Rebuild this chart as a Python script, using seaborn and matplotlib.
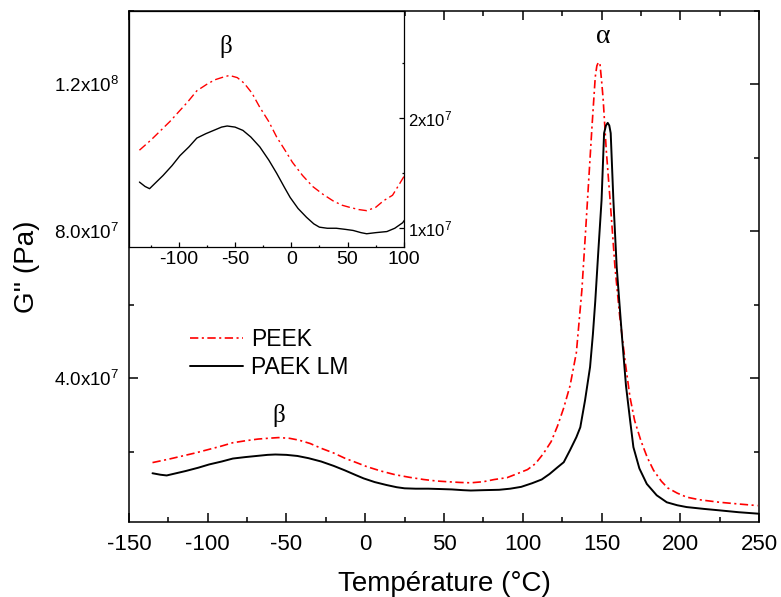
import numpy as np
import pandas as pd
import matplotlib
matplotlib.use("Agg")
import matplotlib.pyplot as plt
from matplotlib.ticker import MultipleLocator, FixedLocator, FuncFormatter
from matplotlib.lines import Line2D
import seaborn as sns

sns.set_theme(style="ticks")
plt.rcParams['font.family'] = ['Liberation Sans', 'DejaVu Sans']
plt.rcParams['mathtext.fontset'] = 'custom'
plt.rcParams['mathtext.rm'] = 'Liberation Sans'
plt.rcParams['lines.scale_dashes'] = False
plt.rcParams['axes.unicode_minus'] = False
plt.rcParams['axes.axisbelow'] = False
for k in ['text.color', 'axes.labelcolor', 'xtick.color', 'ytick.color', 'axes.edgecolor']:
    plt.rcParams[k] = 'black'
for a in ['xtick', 'ytick']:
    plt.rcParams[a + '.direction'] = 'in'
    plt.rcParams[a + '.major.size'] = 6.5
    plt.rcParams[a + '.minor.size'] = 3.6
    plt.rcParams[a + '.major.width'] = 1.1
    plt.rcParams[a + '.minor.width'] = 1.1
plt.rcParams['xtick.labelsize'] = 16
plt.rcParams['ytick.labelsize'] = 13.5
plt.rcParams['xtick.major.pad'] = 9
plt.rcParams['ytick.major.pad'] = 7
plt.rcParams['xtick.top'] = True
plt.rcParams['ytick.right'] = True
plt.rcParams['xtick.bottom'] = True
plt.rcParams['ytick.left'] = True

# ---------------- data (G'' in units of 1e7 Pa) ----------------
peek_T = [-135, -125, -115, -108, -100, -92, -84, -75, -68, -62, -55, -48, -42, -35,
          -28, -20, -13, -5, 1, 10, 19, 28, 37, 45, 52, 60, 67, 75, 82, 90, 96, 103,
          108, 113, 118, 122, 126, 130, 134, 137.5, 140, 142, 144, 146, 147, 148, 149,
          150, 151, 153, 155.5, 158.5, 161.5, 165, 168, 171, 175, 179, 183, 188, 192,
          198, 204, 212, 225, 238, 249]
peek_G = [1.71, 1.80, 1.90, 1.97, 2.06, 2.15, 2.25, 2.31, 2.35, 2.37, 2.39, 2.37, 2.32, 2.23,
          2.10, 1.97, 1.83, 1.70, 1.60, 1.48, 1.38, 1.31, 1.25, 1.21, 1.19, 1.17, 1.16, 1.19,
          1.25, 1.30, 1.40, 1.52, 1.68, 1.95, 2.28, 2.70, 3.20, 3.80, 4.70, 6.40, 8.10, 9.50,
          10.9, 12.2, 12.5, 12.6, 12.55, 12.1, 11.6, 10.2, 8.8, 7.03, 5.7, 4.45, 3.5, 2.85,
          2.3, 1.85, 1.5, 1.2, 1.02, 0.88, 0.77, 0.70, 0.63, 0.58, 0.54]

paek_T = [-135, -130, -126, -120, -114, -106, -99, -91, -84, -76, -69, -62, -57, -50,
          -43, -36, -28, -20, -13, -6, -1, 6, 13.5, 20, 25, 32, 40, 48, 55, 62, 67, 75,
          85, 92, 99, 106, 112, 117, 122, 126, 130, 134, 136.5, 139.5, 142.7, 144.5, 146,
          148, 150, 151.6, 152.8, 153.9, 154.9, 155.8, 157.5, 159.6, 162.8, 165.5, 168,
          170.2, 174, 178.7, 185, 191.4, 198, 204, 215, 225, 237, 249.6]
paek_G = [1.42, 1.38, 1.36, 1.42, 1.48, 1.57, 1.66, 1.74, 1.82, 1.86, 1.89, 1.92, 1.93, 1.92,
          1.89, 1.83, 1.74, 1.62, 1.50, 1.37, 1.28, 1.18, 1.10, 1.04, 1.01, 1.00, 1.00, 0.99,
          0.98, 0.96, 0.95, 0.96, 0.97, 1.00, 1.05, 1.15, 1.25, 1.40, 1.58, 1.72, 2.05, 2.40,
          2.67, 3.40, 4.31, 5.20, 6.10, 7.50, 8.85, 10.67, 10.88, 10.95, 10.88, 10.67, 8.85,
          7.03, 5.22, 3.80, 2.90, 2.13, 1.55, 1.13, 0.82, 0.63, 0.55, 0.50, 0.45, 0.41, 0.36, 0.32]

series_names = ["PEEK", "PAEK LM"]
main_xticks = [-150, -100, -50, 0, 50, 100, 150, 200, 250]
main_yticks = [4e7, 8e7, 1.2e8]
main_ylabels = [r"$\mathregular{4.0x10^{7}}$", r"$\mathregular{8.0x10^{7}}$", r"$\mathregular{1.2x10^{8}}$"]
inset_xticks = [-100, -50, 0, 50, 100]
inset_yticks = [1e7, 2e7]
inset_ylabels = [r"$\mathregular{1x10^{7}}$", r"$\mathregular{2x10^{7}}$"]

peek = pd.DataFrame({"T": peek_T, "G": np.array(peek_G) * 1e7})
paek = pd.DataFrame({"T": paek_T, "G": np.array(paek_G) * 1e7})

red_style = (0, (6, 2.5, 1.5, 2.5))

fig = plt.figure(figsize=(7.81, 5.97), dpi=100)
ax = fig.add_axes([0.165, 0.126, 0.807, 0.856])
ax.set_axisbelow(False)

sns.lineplot(data=peek, x="T", y="G", ax=ax, color="#ff0000", lw=1.2,
             linestyle=red_style, estimator=None, sort=False)
sns.lineplot(data=paek, x="T", y="G", ax=ax, color="black", lw=1.4,
             estimator=None, sort=False)

ax.set_xlim(-150, 250)
ax.set_ylim(1e6, 1.4e8)
ax.xaxis.set_major_locator(FixedLocator(main_xticks))
ax.xaxis.set_minor_locator(MultipleLocator(25))
ax.yaxis.set_major_locator(FixedLocator(main_yticks))
ax.yaxis.set_major_formatter(FuncFormatter(lambda v, p: main_ylabels[main_yticks.index(v)] if v in main_yticks else ""))
ax.yaxis.set_minor_locator(MultipleLocator(2e7))
for s in ax.spines.values():
    s.set_visible(True)
    s.set_color('black')
    s.set_linewidth(1.1)
ax.set_xlabel("Température (°C)", fontsize=20, labelpad=11)
ax.set_ylabel("G'' (Pa)", fontsize=20, labelpad=10)

handles = [Line2D([], [], color="#ff0000", lw=1.2, linestyle=red_style),
           Line2D([], [], color="black", lw=1.4)]
ax.legend(handles, series_names, loc='center left', bbox_to_anchor=(0.097, 0.329),
          frameon=False, fontsize=16.5, handlelength=2.3, handletextpad=0.35,
          labelspacing=0.2, borderpad=0, borderaxespad=0)

ax.text(-55, 2.99e7, "β", fontsize=18, family='Liberation Serif', ha='center', va='center')
ax.text(151, 1.33e8, "α", fontsize=20, family='Liberation Serif', ha='center', va='center')

# inset
ins = fig.add_axes([0.165, 0.5858, 0.352, 0.3958])
ins.set_axisbelow(False)
sns.lineplot(data=peek, x="T", y="G", ax=ins, color="#ff0000", lw=1.0,
             linestyle=red_style, estimator=None, sort=False)
sns.lineplot(data=paek, x="T", y="G", ax=ins, color="black", lw=1.0,
             estimator=None, sort=False)
ins.set_xlim(-144.4, 100)
ins.set_ylim(0.827e7, 2.976e7)
ins.xaxis.set_major_locator(FixedLocator(inset_xticks))
ins.xaxis.set_minor_locator(MultipleLocator(25))
ins.yaxis.tick_right()
ins.yaxis.set_major_locator(FixedLocator(inset_yticks))
ins.yaxis.set_major_formatter(FuncFormatter(lambda v, p: inset_ylabels[inset_yticks.index(v)] if v in inset_yticks else ""))
ins.yaxis.set_minor_locator(FixedLocator([1.5e7, 2.5e7]))
ins.set_xlabel("")
ins.set_ylabel("")
for s in ins.spines.values():
    s.set_visible(True)
    s.set_color('black')
    s.set_linewidth(0.9)
ins.text(-58, 2.65e7, "β", fontsize=18, family='Liberation Serif', ha='center', va='center')

ins.tick_params(axis='x', which='major', bottom=True, top=False, direction='in',
                length=3.6, width=0.9, color='black', labelsize=14, pad=3)
ins.tick_params(axis='x', which='minor', bottom=True, top=False, direction='in',
                length=1.8, width=0.9, color='black')
ins.tick_params(axis='y', which='major', right=True, left=False, direction='in',
                length=3.6, width=0.9, color='black', labelsize=12, pad=3)
ins.tick_params(axis='y', which='minor', right=True, left=False, direction='in',
                length=1.8, width=0.9, color='black')

fig.savefig("out.png", dpi=100)
